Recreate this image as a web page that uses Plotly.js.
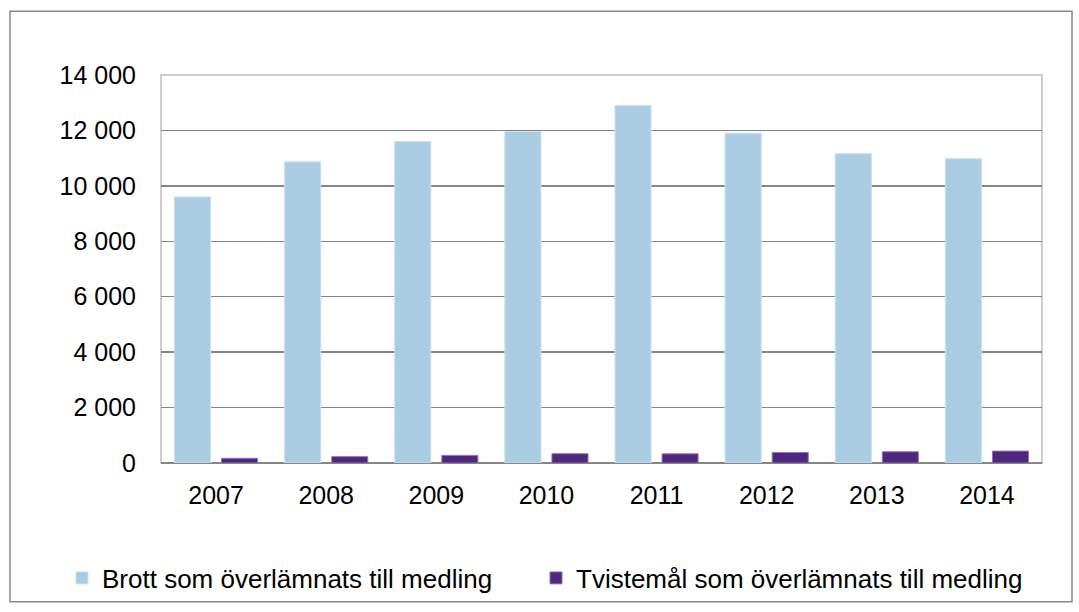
<!DOCTYPE html>
<html>
<head>
<meta charset="utf-8">
<script src="https://cdn.plot.ly/plotly-3.0.1.min.js"></script>
<style>html,body{margin:0;padding:0;background:#fff;}#chart{width:1079px;height:612px;}</style>
</head>
<body>
<div id="chart"></div>
<script>
const years = ['2007','2008','2009','2010','2011','2012','2013','2014'];
const brott = [9600, 10870, 11600, 11960, 12900, 11900, 11160, 10980];
const tvistemal = [170, 230, 275, 335, 330, 380, 405, 430];
const seriesNames = ['Brott som överlämnats till medling', 'Tvistemål som överlämnats till medling'];
const yTicks = [0, 2000, 4000, 6000, 8000, 10000, 12000, 14000];
const yTickText = ['0', '2 000', '4 000', '6 000', '8 000', '10 000', '12 000', '14 000'];

const tickFont = {family: 'Liberation Sans, Arial, sans-serif', size: 25, color: '#000'};
const legFont = {family: 'Liberation Sans, Arial, sans-serif', size: 26, color: '#000'};

const traces = [
  {type: 'bar', x: years, y: brott, name: seriesNames[0], legend: 'legend',
   marker: {color: '#ABCDE4', line: {color: '#C9DFEE', width: 1}}},
  {type: 'bar', x: years, y: tvistemal, name: seriesNames[1], legend: 'legend2',
   marker: {color: '#4E2780', line: {color: '#8E79AE', width: 1}}}
];

const px = v => (v - 161) / 881;
const py = v => (464 - v) / 389;

const layout = {
  width: 1079, height: 612,
  margin: {l: 161, r: 37, t: 75, b: 148},
  paper_bgcolor: '#fff', plot_bgcolor: '#fff',
  font: tickFont,
  barmode: 'group', bargap: 0.145, bargroupgap: 0.234,
  xaxis: {type: 'category', showgrid: false, zeroline: false, showline: false,
          ticks: '', tickfont: tickFont, ticklabelstandoff: 15},
  yaxis: {range: [0, 14000], tickvals: yTicks, ticktext: yTickText, showgrid: true,
          gridcolor: '#868686', gridwidth: 1.5, zeroline: true, zerolinecolor: '#868686',
          zerolinewidth: 2, showline: false, ticks: '', tickfont: tickFont, ticklabelstandoff: 24},
  showlegend: true,
  legend: {orientation: 'h', x: px(62), xanchor: 'left', y: py(578), yanchor: 'middle',
           font: legFont, itemwidth: 30, bgcolor: 'rgba(0,0,0,0)'},
  legend2: {orientation: 'h', x: px(536), xanchor: 'left', y: py(578), yanchor: 'middle',
           font: legFont, itemwidth: 30, bgcolor: 'rgba(0,0,0,0)'},
  shapes: [
    {type: 'rect', xref: 'paper', yref: 'paper', x0: 0, x1: 1, y0: 0, y1: 1,
     line: {color: '#BFBFBF', width: 1.5}, fillcolor: 'rgba(0,0,0,0)', layer: 'below'},
    {type: 'rect', xref: 'paper', yref: 'paper', x0: px(10), x1: px(1072), y0: py(603), y1: py(11),
     line: {color: '#888888', width: 1.5}, fillcolor: 'rgba(0,0,0,0)', layer: 'below'}
  ]
};

Plotly.newPlot('chart', traces, layout, {displayModeBar: false, staticPlot: true});
</script>
</body>
</html>
